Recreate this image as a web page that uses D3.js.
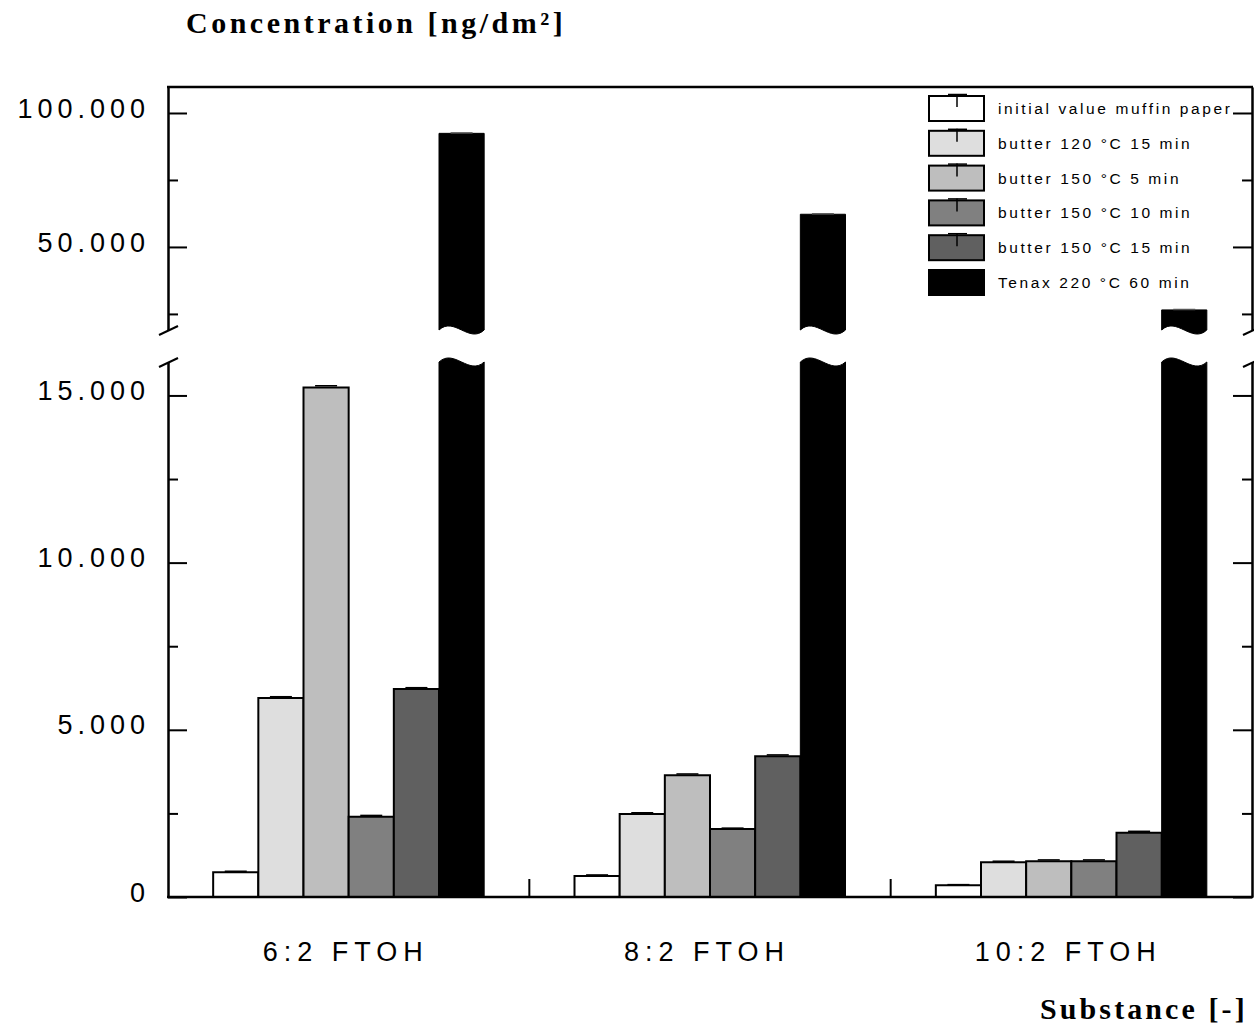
<!DOCTYPE html>
<html>
<head>
<meta charset="utf-8">
<script src="https://cdn.jsdelivr.net/npm/d3@7"></script>
<style>
  body { margin: 0; background: #fff; }
  svg { display: block; }
</style>
</head>
<body>
<svg id="chart"></svg>
<script>
// data (ng/dm²)
const categories = ["6:2 FTOH", "8:2 FTOH", "10:2 FTOH"];
const series = ["initial value muffin paper", "butter 120 °C 15 min", "butter 150 °C 5 min",
                "butter 150 °C 10 min", "butter 150 °C 15 min", "Tenax 220 °C 60 min"];
const fills = ["#ffffff", "#dedede", "#bebebe", "#808080", "#606060", "#000000"];

const valInitial = [740, 630, 350];
const valB120_15 = [5950, 2480, 1040];
const valB150_5 = [15240, 3640, 1070];
const valB150_10 = [2400, 2030, 1070];
const valB150_15 = [6220, 4210, 1925];
const valTenax = [92400, 62200, 26500];

const errInitial = [30, 30, 20];
const errB120_15 = [40, 40, 30];
const errB150_5 = [50, 40, 40];
const errB150_10 = [40, 30, 40];
const errB150_15 = [40, 40, 40];
const errTenax = [150, 150, 150];

const majorLow = [0, 5000, 10000, 15000];
const minorLow = [2500, 7500, 12500];
const majorHigh = [50000, 100000];
const minorHigh = [25000, 75000];

const values = [valInitial, valB120_15, valB150_5, valB150_10, valB150_15, valTenax];
const errors = [errInitial, errB120_15, errB150_5, errB150_10, errB150_15, errTenax];

const W = 1254, H = 1027;
const xL = 168, xR = 1252, yBase = 897, yTopFrame = 87;

const svg = d3.select("#chart").attr("width", W).attr("height", H);

// broken y axis: two linear segments
const yLow = d3.scaleLinear().domain([0, 16000]).range([yBase, 362]);
const yHigh = d3.scaleLinear().domain([19000, 109700]).range([330, yTopFrame]);
const lowMax = yLow.domain()[1];

const x = d3.scaleBand().domain(categories).range([xL, xR]).padding(0);
const xs = d3.scaleBand().domain(series).range([0, x.bandwidth()]).paddingInner(0).paddingOuter(1);

const fmt = d3.formatLocale({decimal: ",", thousands: ".", grouping: [3], currency: ["", ""]}).format(",");

// bars
function barPath(x0, w, yTop, yBot, waveTop, waveBot) {
  const k = 14;
  let p = `M${x0},${yBot}L${x0},${yTop}`;
  p += waveTop ? `C${x0 + w / 3},${yTop - k} ${x0 + 2 * w / 3},${yTop + k} ${x0 + w},${yTop}` : `L${x0 + w},${yTop}`;
  p += `L${x0 + w},${yBot}`;
  if (waveBot) p += `C${x0 + 2 * w / 3},${yBot + k} ${x0 + w / 3},${yBot - k} ${x0},${yBot}`;
  return p + "Z";
}

const barData = [];
categories.forEach((c, ci) => {
  series.forEach((s, si) => {
    barData.push({cat: c, s: s, si: si, v: values[si][ci], e: errors[si][ci]});
  });
});

const bars = svg.append("g");
barData.forEach(d => {
  const x0 = x(d.cat) + xs(d.s), w = xs.bandwidth();
  const stroke = "#000";
  if (d.v <= lowMax) {
    bars.append("path").attr("d", barPath(x0, w, yLow(d.v), yBase, false, false))
      .attr("fill", fills[d.si]).attr("stroke", stroke).attr("stroke-width", 2);
    // error cap
    const yc = yLow(d.v + d.e);
    bars.append("line").attr("x1", x0 + w / 2 - 11).attr("x2", x0 + w / 2 + 11)
      .attr("y1", yc).attr("y2", yc).attr("stroke", "#000").attr("stroke-width", 1.5);
  } else {
    bars.append("path").attr("d", barPath(x0, w, yLow.range()[1], yBase, true, false))
      .attr("fill", fills[d.si]).attr("stroke", stroke).attr("stroke-width", 1);
    bars.append("path").attr("d", barPath(x0, w, yHigh(d.v), yHigh.range()[0], false, true))
      .attr("fill", fills[d.si]).attr("stroke", stroke).attr("stroke-width", 1);
    const yc = yHigh(d.v + d.e);
    bars.append("line").attr("x1", x0 + w / 2 - 11).attr("x2", x0 + w / 2 + 11)
      .attr("y1", yc).attr("y2", yc).attr("stroke", "#555").attr("stroke-width", 1.5);
  }
});

// axes
function styleAxis(g) {
  g.selectAll("path, line").attr("stroke", "#000").attr("stroke-width", 2);
}
const fontNum = "'Liberation Sans', Arial, sans-serif";

[[yLow, majorLow], [yHigh, majorHigh]].forEach(([sc, tv]) => {
  const g = svg.append("g").attr("transform", `translate(${xL},0)`)
    .call(d3.axisLeft(sc).tickValues(tv).tickSize(-19).tickSizeOuter(0).tickPadding(18).tickFormat(fmt));
  g.attr("font-family", fontNum).attr("font-size", 27);
  g.selectAll("text").attr("dy", "0.15em").attr("fill", "#000").style("letter-spacing", "5px");
  styleAxis(g);
  const gr = svg.append("g").attr("transform", `translate(${xR},0)`)
    .call(d3.axisRight(sc).tickValues(tv).tickSize(-19).tickSizeOuter(0).tickFormat(""));
  styleAxis(gr);
});
[[yLow, minorLow], [yHigh, minorHigh]].forEach(([sc, tv]) => {
  const g = svg.append("g").attr("transform", `translate(${xL},0)`)
    .call(d3.axisLeft(sc).tickValues(tv).tickSize(-10).tickSizeOuter(0).tickFormat(""));
  styleAxis(g);
  const gr = svg.append("g").attr("transform", `translate(${xR},0)`)
    .call(d3.axisRight(sc).tickValues(tv).tickSize(-10).tickSizeOuter(0).tickFormat(""));
  styleAxis(gr);
});

// axis break slashes
[xL, xR].forEach(ax => {
  const yb1 = yHigh.range()[0], yb2 = yLow.range()[1];
  svg.append("line").attr("x1", ax - 9).attr("y1", yb1 + 5).attr("x2", ax + 10).attr("y2", yb1 - 4)
    .attr("stroke", "#000").attr("stroke-width", 2);
  svg.append("line").attr("x1", ax - 9).attr("y1", yb2 + 5).attr("x2", ax + 10).attr("y2", yb2 - 4)
    .attr("stroke", "#000").attr("stroke-width", 2);
});

// frame top and x baseline
svg.append("line").attr("x1", xL - 1).attr("x2", xR + 1).attr("y1", yTopFrame).attr("y2", yTopFrame)
  .attr("stroke", "#000").attr("stroke-width", 2.5);
svg.append("line").attr("x1", xL - 1).attr("x2", xR + 1).attr("y1", yBase).attr("y2", yBase)
  .attr("stroke", "#000").attr("stroke-width", 2.5);

// category separators
svg.append("g").selectAll("line")
  .data(categories.slice(1))
  .join("line")
  .attr("x1", d => x(d)).attr("x2", d => x(d))
  .attr("y1", yBase).attr("y2", yBase - 18)
  .attr("stroke", "#000").attr("stroke-width", 2);

// category labels
svg.append("g").selectAll("text")
  .data(categories)
  .join("text")
  .attr("x", d => x(d) + x.bandwidth() / 2 - 3)
  .attr("y", 961)
  .attr("text-anchor", "middle")
  .attr("font-family", fontNum).attr("font-size", 27)
  .style("letter-spacing", "6px")
  .text(d => d);

// axis titles
svg.append("text").attr("x", 186).attr("y", 33)
  .attr("font-family", "'Liberation Serif', 'Times New Roman', serif").attr("font-weight", "bold")
  .attr("font-size", 30).style("letter-spacing", "3.5px")
  .text("Concentration [ng/dm²]");
svg.append("text").attr("x", 1040).attr("y", 1019)
  .attr("font-family", "'Liberation Serif', 'Times New Roman', serif").attr("font-weight", "bold")
  .attr("font-size", 30).style("letter-spacing", "3.1px")
  .text("Substance [-]");

// legend
const lg = svg.append("g").attr("transform", "translate(929,96)");
series.forEach((s, i) => {
  const yy = i * 34.8;
  lg.append("rect").attr("x", 0).attr("y", yy).attr("width", 55).attr("height", 25)
    .attr("fill", fills[i]).attr("stroke", "#000").attr("stroke-width", 2);
  if (i < series.length - 1) {
    lg.append("line").attr("x1", 28).attr("x2", 28).attr("y1", yy - 2).attr("y2", yy + 11)
      .attr("stroke", "#000").attr("stroke-width", 1.5);
    lg.append("line").attr("x1", 19).attr("x2", 38).attr("y1", yy - 1.5).attr("y2", yy - 1.5)
      .attr("stroke", "#000").attr("stroke-width", 1.5);
  }
  lg.append("text").attr("x", 69).attr("y", yy + 12.5).attr("dy", "0.35em")
    .attr("font-family", fontNum).attr("font-size", 15.5)
    .style("letter-spacing", "2.6px")
    .text(s);
});
</script>
</body>
</html>
